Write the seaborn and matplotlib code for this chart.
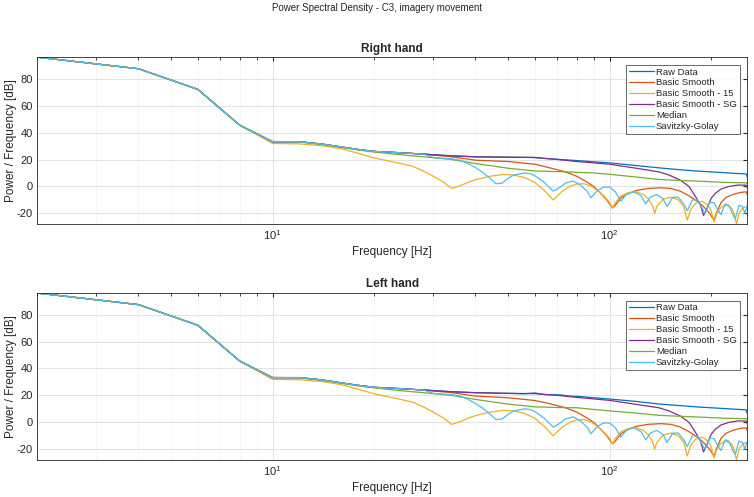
import numpy as np
import pandas as pd
import matplotlib
matplotlib.use("Agg")
import matplotlib.pyplot as plt
import seaborn as sns
from matplotlib.ticker import LogLocator, NullFormatter, FixedLocator, FixedFormatter

sns.set_style("white")
plt.rcParams['font.family'] = ['Liberation Sans Narrow', 'Liberation Sans', 'DejaVu Sans']
plt.rcParams['mathtext.fontset'] = 'custom'
plt.rcParams['mathtext.rm'] = 'Liberation Sans'
plt.rcParams['axes.unicode_minus'] = False

series_names = ["Raw Data", "Basic Smooth", "Basic Smooth - 15",
                "Basic Smooth - SG", "Median", "Savitzky-Golay"]
colors = ["#0072BD", "#D95319", "#EDB120", "#7E2F8E", "#77AC30", "#4DBEEE"]

# ---------------- Right hand (top panel) ----------------
head_f = [2, 4, 6, 8, 10, 12, 14, 16, 18, 20, 24, 28]
head_v = [96, 87.4, 72.1, 45.4, 33.2, 33.2, 31.5, 29.3, 27.4, 26, 25, 24]

raw_f = head_f + [34, 40, 50, 60, 64, 80, 100, 120, 140, 160, 180, 200, 220,
                  240, 254, 256]
raw_v = head_v + [22.7, 22, 21.7, 21.5, 20.8, 19.2, 17.5, 15.5, 13.8, 12.5,
                  11.5, 10.8, 10.2, 9.6, 9.3, 7]

bs_f = head_f + [34, 40, 50, 60, 66, 74, 80, 86, 90, 94, 98, 102, 104, 108,
                 114, 120, 130, 142, 152, 162, 172, 182, 190, 198, 204, 208,
                 214, 222, 232, 244, 254, 256]
bs_v = head_v + [22, 19.5, 18.5, 16.5, 14, 10.8, 7.5, 3, -0.3, -5, -10, -16,
                 -14, -8.5, -5, -3, -1.5, -1, -1.5, -3.5, -7, -11, -15, -20,
                 -25, -19, -12, -8, -6, -4.5, -4, -6]

b15_f = [2, 4, 6, 8, 10, 12, 14, 16, 18, 20, 22, 24, 26, 28, 30, 32, 34, 36,
         38, 40, 44, 48, 52, 56, 60, 64, 68, 72, 76, 80, 84, 88, 92, 96, 100,
         102, 104, 108, 114, 120, 126, 130, 134, 136, 138, 144, 152, 160, 166,
         170, 174, 180, 188, 196, 200, 204, 208, 214, 222, 230, 234, 238, 242,
         248, 256]
b15_v = [96, 87.4, 72.1, 45.4, 31.9, 31.6, 30.3, 28, 24.5, 21.2, 19, 17, 15,
         11.5, 7.5, 3.5, -1.5, 0.5, 3, 5, 7.5, 8.8, 8.5, 6.5, 3, -3, -10, -4,
         0, 1.8, 2, 0.5, -3, -7, -12, -16, -12, -7, -4.5, -4, -6, -9, -14, -20,
         -15, -9.5, -8, -10, -15, -25, -17, -12.5, -11, -14, -18, -26.5, -20,
         -15.5, -14, -16, -20, -28, -20, -16, -15]

bsg_f = head_f + [34, 40, 50, 60, 70, 80, 100, 120, 140, 150, 162, 172, 180,
                  186, 190, 194, 200, 206, 214, 226, 240, 254, 256]
bsg_v = head_v + [22.7, 22, 21.7, 21.5, 20, 18.5, 16.5, 13.5, 10.8, 8.5, 4.7,
                  0, -7.7, -14, -21.5, -17, -9, -5, -2, 0, 1, 1, -1]

med_f = [2, 4, 6, 8, 10, 12, 14, 16, 18, 20, 24, 28, 34, 40, 50, 60, 70, 80,
         90, 100, 120, 140, 160, 180, 200, 220, 254, 256]
med_v = [96, 87.4, 72.1, 45.4, 33.4, 33, 31.2, 29, 27, 25.6, 23.5, 22, 20, 17,
         13.5, 11.5, 11, 10.5, 10, 9, 7, 5.2, 4.5, 4, 3.5, 3, 2.7, 2]

sg_f = head_f + [30, 34, 36, 38, 40, 42, 44, 46, 48, 50, 52, 56, 58, 60, 64,
                 68, 70, 74, 78, 82, 86, 88, 92, 96, 100, 104, 108, 112, 118,
                 124, 128, 132, 138, 144, 148, 154, 160, 166, 170, 176, 182,
                 188, 192, 198, 204, 210, 214, 220, 226, 232, 236, 242, 248,
                 252, 256]
sg_v = head_v + [21.5, 20.5, 19.5, 17, 14, 10.5, 6.5, 2, 2.5, 6, 8.5, 10, 9.5,
                 8, 3, -3.5, -2, 2.5, 4, 1, -4, -8.5, -3, -0.5, -0.5, -4, -11,
                 -6, -4, -7, -13, -8, -6, -9, -15, -8, -8, -13, -18, -10, -10,
                 -16, -20, -12, -12, -18, -21, -13, -14, -21, -24, -14, -15,
                 -20, -14]

# ---------------- Left hand (bottom panel) ----------------
raw_f_b = head_f + [34, 40, 50, 56, 60, 64, 72, 76, 80, 100, 120, 140, 160,
                    180, 200, 220, 240, 254, 256]
raw_v_b = head_v + [22.7, 22, 21.5, 21.2, 21.8, 20.6, 20.3, 19.5, 19.3, 17.3,
                    15.5, 13.6, 12.5, 11.5, 10.8, 10.2, 9.6, 9.3, 6.5]

bs_v_b = head_v + [22, 19.5, 18.2, 16.2, 14, 10.8, 7.5, 3, -0.3, -5, -10, -16,
                   -14, -8.5, -5, -3, -1.5, -1, -1.5, -3.5, -7, -11, -15, -20,
                   -25, -19, -12, -8, -6, -4.5, -4, -6]

bsg_v_b = head_v + [22.7, 22, 21.5, 21.3, 20, 18.5, 16.3, 13.3, 10.8, 8.5,
                    4.7, 0, -7.7, -14, -22, -17, -9, -5, -2, 0, 1, 1, -1]

med_v_b = [96, 87.4, 72.1, 45.4, 33.4, 33, 31.2, 29, 27, 25.6, 23.5, 22, 20,
           17, 13.5, 11.5, 11, 10.8, 9.5, 8.5, 6.8, 5.2, 4.5, 4, 3.5, 3, 2.7, 2]

top_series = [(raw_f, raw_v), (bs_f, bs_v), (b15_f, b15_v), (bsg_f, bsg_v),
              (med_f, med_v), (sg_f, sg_v)]
bottom_series = [(raw_f_b, raw_v_b), (bs_f, bs_v_b), (b15_f, b15_v),
                 (bsg_f, bsg_v_b), (med_f, med_v_b), (sg_f, sg_v)]

fig = plt.figure(figsize=(7.54, 4.97), dpi=100)
fig.text(0.5, 0.983, "Power Spectral Density - C3, imagery movement",
         fontsize=7, ha="center", va="center", color="#262626")
ax_top = fig.add_axes([0.049, 0.549, 0.942, 0.336])
ax_bot = fig.add_axes([0.049, 0.0744, 0.942, 0.336])

for ax, title, ser in [(ax_top, "Right hand", top_series),
                       (ax_bot, "Left hand", bottom_series)]:
    for name, col, (f, v) in zip(series_names, colors, ser):
        df = pd.DataFrame({"f": f, "v": v})
        sns.lineplot(data=df, x="f", y="v", ax=ax, color=col, lw=0.9,
                     label=name, sort=False, estimator=None)
    ax.set_xscale("log")
    ax.set_xlim(2, 256)
    ax.set_ylim(-28, 96)
    ax.xaxis.set_major_locator(FixedLocator([10, 100]))
    ax.xaxis.set_major_formatter(FixedFormatter([r"$10^{1}$", r"$10^{2}$"]))
    ax.xaxis.set_minor_locator(LogLocator(base=10, subs=np.arange(2, 10)))
    ax.xaxis.set_minor_formatter(NullFormatter())
    ax.set_yticks([-20, 0, 20, 40, 60, 80])
    ax.grid(True, which="major", color="#dedede", lw=0.6)
    ax.grid(True, which="minor", color="#e4e4e4", lw=0.5, ls=":")
    ax.tick_params(direction="in", which="both", top=True, right=True,
                   labelsize=8, colors="#262626", length=3, pad=3)
    ax.tick_params(which="minor", length=2)
    for s in ax.spines.values():
        s.set_color("#262626")
        s.set_linewidth(0.6)
    ax.set_xlabel("Frequency [Hz]", fontsize=8.5, color="#262626", labelpad=3)
    ax.set_ylabel("Power / Frequency [dB]", fontsize=8.5, color="#262626")
    ax.yaxis.set_label_coords(-0.028, 0.5)
    ax.set_title(title, fontsize=8.5, fontweight="bold", pad=4)
    leg = ax.legend(loc="upper right", fontsize=6.8, frameon=True,
                    fancybox=False, edgecolor="#262626", borderpad=0.3,
                    labelspacing=0.2, handlelength=2.6, handletextpad=0.25,
                    borderaxespad=0.8)
    leg.get_frame().set_linewidth(0.6)

fig.savefig("out.png", dpi=100)
